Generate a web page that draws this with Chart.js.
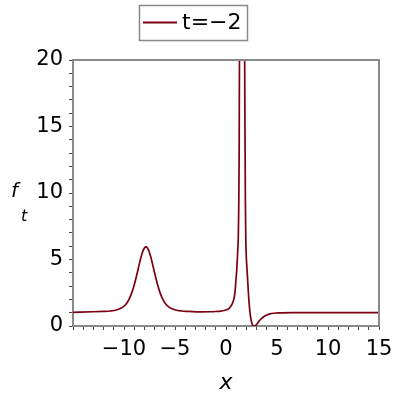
<!DOCTYPE html>
<html>
<head>
<meta charset="utf-8">
<script src="https://cdn.jsdelivr.net/npm/chart.js@4"></script>
<style>
html, body { margin: 0; padding: 0; background: #fff; }
</style>
</head>
<body>
<canvas id="chart" width="400" height="400"></canvas>
<script>
// values
const xValues = [-15, -13.05, -12.05, -11.35, -10.75, -10.15, -9.75, -9.45, -9.25, -9.05, -8.9, -8.75, -8.6,
    -8.45, -8.3, -8.15, -8.0, -7.85, -7.7, -7.55, -7.4, -7.25, -7.1, -6.95, -6.8, -6.65, -6.45, -6.25,
    -5.95, -5.55, -4.95, -4.35, -3.65, -2.5, -1.5, -1, -0.5, 0, 0.3, 0.56, 0.7, 0.82, 0.9, 0.98,
    1.05, 1.11, 1.16, 1.21, 1.25, 1.29, 1.32, 1.42, 1.57, 1.72, 1.83, 1.86, 1.9, 1.94, 1.98, 2.03, 2.09,
    2.15, 2.22, 2.29, 2.36, 2.44, 2.53, 2.62, 2.7, 2.78, 2.88, 3.0, 3.15, 3.34, 3.5, 3.7, 4.0, 4.3, 4.65,
    5.0, 5.5, 6.5, 10, 15];
const fValues = [1.03, 1.07, 1.1, 1.13, 1.2, 1.4, 1.69, 2.09, 2.47, 2.95, 3.37, 3.83, 4.32,
    4.81, 5.26, 5.63, 5.87, 5.95, 5.87, 5.63, 5.26, 4.81, 4.32, 3.83, 3.37, 2.95, 2.47, 2.09,
    1.69, 1.4, 1.2, 1.13, 1.1, 1.06, 1.07, 1.09, 1.12, 1.2, 1.33, 1.6, 1.85, 2.2, 2.7, 3.5,
    4.2, 5, 5.8, 6.8, 9, 13, 20, 32, 38, 32, 20, 15, 9.5, 6.5, 5.4, 4.6, 3.9,
    3.1, 2.2, 1.5, 0.95, 0.55, 0.22, 0.06, 0.01, 0, 0.03, 0.12, 0.27, 0.45, 0.57, 0.69, 0.82, 0.91, 0.96,
    0.98, 0.99, 1.0, 1.0, 1.0];
const seriesLabel = 't=\u22122';
const xLabeled = [-10, -5, 0, 5, 10, 15];
const yLabeled = [0, 5, 10, 15, 20];

const lineColor = '#7a0012';
const frameColor = '#8a8a8a';
const fontFamily = '"DejaVu Sans", sans-serif';

const points = xValues.map((x, i) => ({ x: x, y: fValues[i] }));

// top/right frame, legend box and the f_t label
const decorations = {
    id: 'decorations',
    afterDraw(chart) {
        const ctx = chart.ctx;
        const a = chart.chartArea;
        ctx.save();
        ctx.strokeStyle = frameColor;
        ctx.lineWidth = 2;
        ctx.beginPath();
        ctx.moveTo(a.left, a.top);
        ctx.lineTo(a.right, a.top);
        ctx.lineTo(a.right, a.bottom);
        ctx.stroke();

        // legend
        ctx.lineWidth = 1.5;
        ctx.strokeRect(139.5, 5.5, 108, 35);
        ctx.strokeStyle = lineColor;
        ctx.lineWidth = 2;
        ctx.beginPath();
        ctx.moveTo(143, 22.5);
        ctx.lineTo(177, 22.5);
        ctx.stroke();
        ctx.fillStyle = '#000';
        ctx.font = '22px ' + fontFamily;
        ctx.textBaseline = 'middle';
        ctx.textAlign = 'left';
        ctx.fillText(chart.data.datasets[0].label, 182, 23);

        // y axis title f_t
        ctx.font = 'italic 20px ' + fontFamily;
        ctx.textBaseline = 'alphabetic';
        ctx.fillText('f', 11, 197);
        ctx.font = 'italic 16px ' + fontFamily;
        ctx.fillText('t', 21, 221);
        ctx.restore();
    }
};

new Chart(document.getElementById('chart'), {
    type: 'scatter',
    data: {
        datasets: [{
            label: seriesLabel,
            data: points,
            showLine: true,
            borderColor: lineColor,
            backgroundColor: lineColor,
            borderWidth: 1.7,
            pointRadius: 0,
            cubicInterpolationMode: 'monotone'
        }]
    },
    options: {
        responsive: false,
        animation: false,
        layout: { padding: { top: 60, right: 21, left: 0, bottom: 0 } },
        plugins: {
            legend: { display: false },
            tooltip: { enabled: false }
        },
        scales: {
            x: {
                type: 'linear',
                min: -15,
                max: 15,
                afterFit: scale => { scale.height = 74; },
                border: { color: frameColor, width: 2 },
                grid: { drawOnChartArea: false, tickLength: 4, color: '#444' },
                ticks: {
                    stepSize: 1,
                    autoSkip: false,
                    maxRotation: 0,
                    padding: 7,
                    color: '#000',
                    font: { family: fontFamily, size: 21 },
                    callback: v => xLabeled.includes(v) ? (v < 0 ? '\u2212' + Math.abs(v) : String(v)) : ''
                },
                title: {
                    display: true,
                    text: 'x',
                    color: '#000',
                    font: { family: fontFamily, size: 22, style: 'italic' },
                    padding: { top: 0, bottom: 4 }
                }
            },
            y: {
                type: 'linear',
                min: 0,
                max: 20,
                afterFit: scale => { scale.width = 73; },
                border: { color: frameColor, width: 2 },
                grid: { drawOnChartArea: false, tickLength: 4, color: '#444' },
                ticks: {
                    stepSize: 1,
                    autoSkip: false,
                    padding: 6,
                    color: '#000',
                    font: { family: fontFamily, size: 21 },
                    callback: v => yLabeled.includes(v) ? String(v) : ''
                }
            }
        }
    },
    plugins: [decorations]
});
</script>
</body>
</html>
